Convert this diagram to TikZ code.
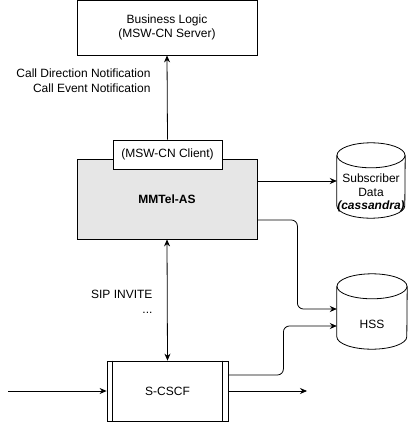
\documentclass[tikz,border=0pt]{standalone}
\usepackage{fontspec}
\setmainfont{Liberation Sans}
\usetikzlibrary{arrows.meta}
\definecolor{asgray}{HTML}{E6E6E6}
% outline of a data store round the body node #1
\newcommand{\dbcyl}[2]{%
  \draw[thick] ([yshift=12.5pt]#1.north west) -- ([yshift=12.5pt]#1.south west)
    arc[start angle=180,end angle=360,x radius=#2,y radius=12.5pt]
    -- ([yshift=12.5pt]#1.north east);
  \draw[thick] ([yshift=12.5pt]#1.north) ellipse [x radius=#2,y radius=12.5pt];
}
\begin{document}
\begin{tikzpicture}[x=1pt,y=-1pt, every node/.style={font=\fontsize{12}{14}\selectfont},
  >={Stealth[length=7pt,width=6pt]},
  box/.style={draw,thick,rectangle,align=center,inner sep=0pt},
  db/.style={rectangle,align=center,inner sep=0pt,minimum height=50pt}]
  \useasboundingbox (0,0) rectangle (408,422);
  % boxes
  \node[box,minimum width=180pt,minimum height=55pt] (bl) at (167,27.5) {Business Logic\\(MSW-CN Server)};
  \node[box,fill=asgray,minimum width=180pt,minimum height=80pt] (mmtel) at (167,199) {\textbf{MMTel-AS}};
  \node[box,fill=white,minimum width=109pt,minimum height=29pt] (client) at (167.5,154.5) {(MSW-CN Client)};
  \node[box,minimum width=121pt,minimum height=60pt] (scscf) at (167.5,391) {S-CSCF};
  \draw[thick] ([xshift=6pt]scscf.north west) -- ([xshift=6pt]scscf.south west);
  \draw[thick] ([xshift=-6pt]scscf.north east) -- ([xshift=-6pt]scscf.south east);
  % data stores
  \node[db,minimum width=68pt,font=\fontsize{12}{13.5}\selectfont] (sub) at (371,193) {Subscriber\\Data\\\textbf{\textit{(cassandra)}}};
  \dbcyl{sub}{34pt}
  \node[db,minimum width=70pt] (hss) at (372,324) {HSS};
  \dbcyl{hss}{35pt}
  \coordinate (in) at (8,391);
  \coordinate (out) at (307,391);
  % connectors
  \draw[thick,->] (client.north) -- (bl.south);
  \draw[thick,->] ([yshift=18pt]mmtel.east) -- (sub.west |- 0,181);
  \draw[thick,->,rounded corners=6pt] ([yshift=-21pt]mmtel.east) -- ++(40,0) |- ([yshift=15pt]hss.west);
  \draw[thick,->,rounded corners=6pt] ([yshift=16pt]scscf.east) -- ++(55,0) |- ([yshift=-2pt]hss.west);
  \draw[thick,<->] (mmtel.south) -- (scscf.north);
  \draw[thick,->] (in) -- (scscf.west);
  \draw[thick,->] (scscf.east) -- (out);
  % labels
  \node[anchor=east,align=right,font=\fontsize{12}{15}\selectfont] (notif) at (154,80.5) {Call Direction Notification\\Call Event Notification};
  \node[anchor=east,align=right,font=\fontsize{12}{15}\selectfont] (sip) at (156,302) {SIP INVITE\\...};
\end{tikzpicture}
\end{document}
